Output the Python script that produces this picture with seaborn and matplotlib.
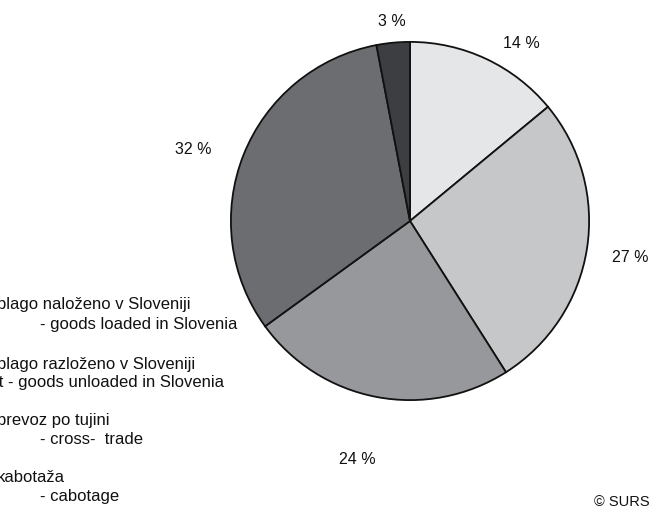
import matplotlib
matplotlib.use("Agg")
import matplotlib.pyplot as plt
import seaborn as sns

# Shares of road freight transport by type of transport (%)
shares = [14, 27, 24, 32, 3]
slice_colors = ["#e5e6e8", "#c6c7c9", "#97989c", "#6c6d71", "#3d3e41"]

# legend text lines (Slovene / English), the start of each runs off the left edge
legend_lines = [
    "blago naloženo v Sloveniji",
    "- goods loaded in Slovenia",
    "blago razloženo v Sloveniji",
    "Import - goods unloaded in Slovenia",
    "prevoz po tujini",
    "- cross-  trade",
    "kabotaža",
    "- cabotage",
]

sns.set_theme(style="white")
plt.rcParams["font.family"] = ["Liberation Sans", "DejaVu Sans"]

W, H = 667, 509
fig = plt.figure(figsize=(W / 100, H / 100), dpi=100)
fig.patch.set_facecolor("white")

# pie axes: centre (410, 221) px, radius 180 px
cx, cy, r = 410, 221, 180
ax = fig.add_axes([(cx - r) / W, (H - cy - r) / H, 2 * r / W, 2 * r / H])
ax.pie(
    shares,
    colors=slice_colors,
    startangle=90,
    counterclock=False,
    radius=1,
    wedgeprops=dict(edgecolor="#111111", linewidth=1.3),
)
ax.set_xlim(-1.005, 1.005)
ax.set_ylim(-1.005, 1.005)
ax.set_aspect("equal")
ax.axis("off")

# percentage labels (pixel centres)
label_pos = [(521, 44), (630, 257), (357, 460), (193, 150), (392, 22)]
for v, (px, py) in zip(shares, label_pos):
    fig.text(px / W, 1 - py / H, f"{v} %", ha="center", va="center",
             fontsize=11.5, color="#111111")

# legend text, left starts in pixels
legend_left = [-3, 40, -3, None, -3, 40, -3, 40]
legend_y = [305, 325, 364, 383, 420, 439, 477, 496]
fs = 12
renderer = fig.canvas.get_renderer()
for txt, lx, py in zip(legend_lines, legend_left, legend_y):
    if lx is None:
        # shift so that only the tail of the first word stays on the canvas
        probe = fig.text(0, 0, "Impor", fontsize=fs)
        lx = -probe.get_window_extent(renderer).width - 1
        probe.remove()
    fig.text(lx / W, 1 - py / H, txt, ha="left", va="center",
             fontsize=fs, color="#111111")

fig.text(650 / W, 1 - 502 / H, "© SURS", ha="right", va="center",
         fontsize=10.5, color="#111111")

fig.savefig("out.png", dpi=100, facecolor="white")
